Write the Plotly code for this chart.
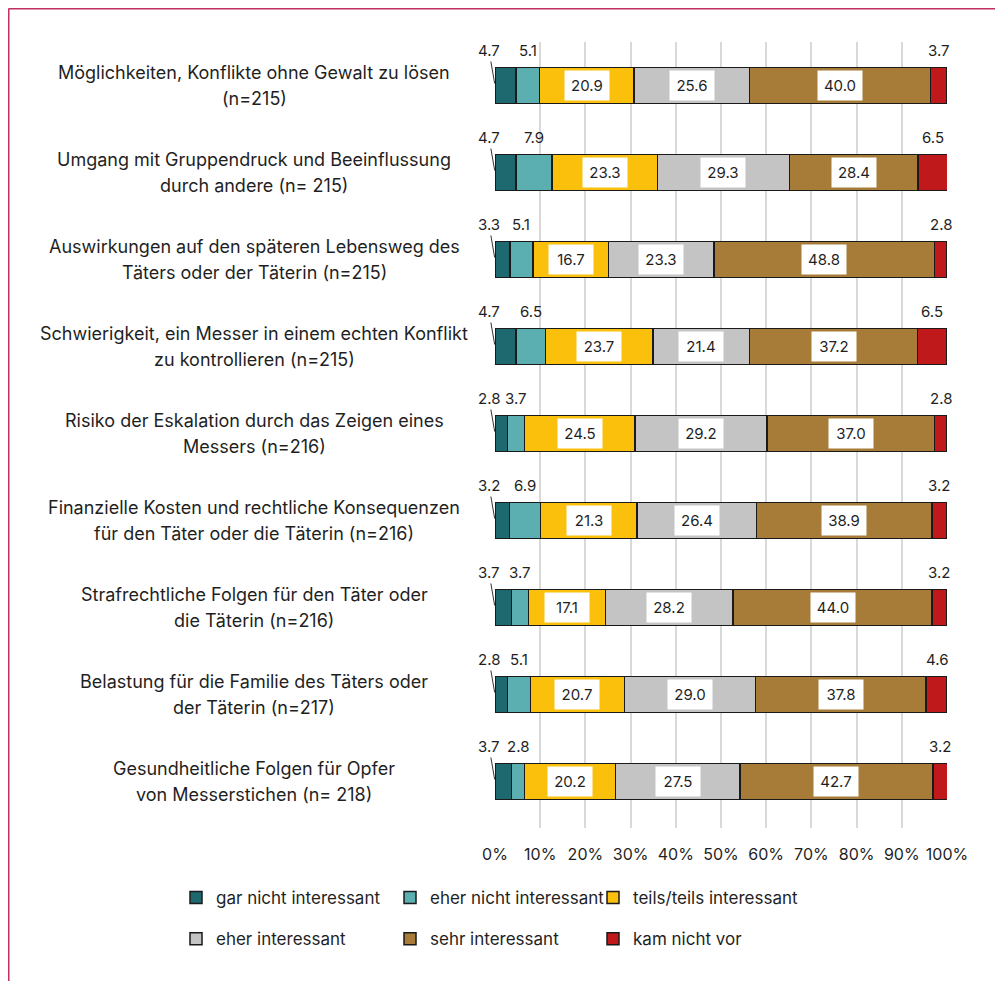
import plotly.graph_objects as go

categories = [
    "Möglichkeiten, Konflikte ohne Gewalt zu lösen<br>(n=215)",
    "Umgang mit Gruppendruck und Beeinflussung<br>durch andere (n= 215)",
    "Auswirkungen auf den späteren Lebensweg des<br>Täters oder der Täterin (n=215)",
    "Schwierigkeit, ein Messer in einem echten Konflikt<br>zu kontrollieren (n=215)",
    "Risiko der Eskalation durch das Zeigen eines<br>Messers (n=216)",
    "Finanzielle Kosten und rechtliche Konsequenzen<br>für den Täter oder die Täterin (n=216)",
    "Strafrechtliche Folgen für den Täter oder<br>die Täterin (n=216)",
    "Belastung für die Familie des Täters oder<br>der Täterin (n=217)",
    "Gesundheitliche Folgen für Opfer<br>von Messerstichen (n= 218)",
]

series_names = [
    "gar nicht interessant",
    "eher nicht interessant",
    "teils/teils interessant",
    "eher interessant",
    "sehr interessant",
    "kam nicht vor",
]

gar_nicht = [4.7, 4.7, 3.3, 4.7, 2.8, 3.2, 3.7, 2.8, 3.7]
eher_nicht = [5.1, 7.9, 5.1, 6.5, 3.7, 6.9, 3.7, 5.1, 2.8]
teils = [20.9, 23.3, 16.7, 23.7, 24.5, 21.3, 17.1, 20.7, 20.2]
eher = [25.6, 29.3, 23.3, 21.4, 29.2, 26.4, 28.2, 29.0, 27.5]
sehr = [40.0, 28.4, 48.8, 37.2, 37.0, 38.9, 44.0, 37.8, 42.7]
kam_nicht = [3.7, 6.5, 2.8, 6.5, 2.8, 3.2, 3.2, 4.6, 3.2]

tick_vals = [0, 10, 20, 30, 40, 50, 60, 70, 80, 90, 100]
tick_text = ["0%", "10%", "20%", "30%", "40%", "50%", "60%", "70%", "80%", "90%", "100%"]

series_values = [gar_nicht, eher_nicht, teils, eher, sehr, kam_nicht]
colors = ["#1E6870", "#5BAFB0", "#FBC00B", "#C4C4C4", "#A67C38", "#C0191C"]
legend_ids = ["legend", "legend2", "legend3", "legend", "legend2", "legend3"]

FONT = "Inter"
TXT = "#1f1f1f"

# the page body has an 8px margin: the figure starts at (8, 8) in the window
OFF = 8
W, H = 1003 - OFF, 981 - OFF
PLOT_L, PLOT_R, PLOT_T, PLOT_B = 495, 947, 42, 828  # window pixels
ML = PLOT_L - OFF
MT = PLOT_T - OFF
MR = W - (PLOT_R - OFF)
MB = H - (PLOT_B - OFF)
PW = PLOT_R - PLOT_L
PH = PLOT_B - PLOT_T


def px_x(px):
    return (px - PLOT_L) / PW


def px_y(py):
    return (PLOT_B - py) / PH


fig = go.Figure()
for i, (name, vals) in enumerate(zip(series_names, series_values)):
    fig.add_trace(go.Bar(
        y=categories, x=vals, name=name, orientation="h",
        marker=dict(color=colors[i], line=dict(color="#1a1a1a", width=1.5)),
        width=0.41, legend=legend_ids[i], legendgroup=name,
        hoverinfo="skip",
    ))

annotations = []
for r, cat in enumerate(categories):
    cum = 0.0
    for s, vals in enumerate(series_values):
        v = vals[r]
        center = cum + v / 2
        label = f"{v:.1f}"
        if s == 0:
            annotations.append(dict(
                x=cum, y=cat, xref="x", yref="y", text=label, showarrow=True,
                arrowhead=0, arrowwidth=1, arrowcolor="#333333", ax=-6, ay=-35,
                standoff=2, font=dict(family=FONT, size=15, color=TXT),
            ))
        elif s in (1, 5):
            annotations.append(dict(
                x=center, y=cat, xref="x", yref="y", text=label, showarrow=False,
                yshift=35, font=dict(family=FONT, size=15, color=TXT),
            ))
        else:
            annotations.append(dict(
                x=center, y=cat, xref="x", yref="y", text=label, showarrow=False,
                bgcolor="white", width=44, height=29, borderpad=0,
                font=dict(family=FONT, size=15, color=TXT),
            ))
        cum += v
    lines = cat.split("<br>")
    n = len(lines)
    for li, line in enumerate(lines):
        annotations.append(dict(
            x=px_x(254), y=cat, xref="paper", yref="y", text=line, showarrow=False,
            xanchor="center", yshift=((n - 1) / 2 - li) * 25.5,
            font=dict(family=FONT, size=18, color=TXT),
        ))

FRAME = "#C2305F"
shapes = [
    dict(type="line", xref="paper", yref="paper", x0=px_x(8.5), x1=px_x(8.5),
         y0=px_y(8.5), y1=px_y(1000), line=dict(color=FRAME, width=2)),
    dict(type="line", xref="paper", yref="paper", x0=px_x(8.5), x1=px_x(1020),
         y0=px_y(8.5), y1=px_y(8.5), line=dict(color=FRAME, width=2)),
]

legend_common = dict(
    orientation="v", font=dict(family=FONT, size=17, color=TXT),
    bgcolor="rgba(0,0,0,0)", tracegroupgap=16, itemwidth=30,
    xanchor="left", yanchor="top", y=px_y(880),
)

fig.update_layout(
    width=W, height=H,
    margin=dict(l=ML, r=MR, t=MT, b=MB),
    paper_bgcolor="white", plot_bgcolor="white",
    barmode="stack",
    font=dict(family=FONT, size=16, color=TXT),
    xaxis=dict(range=[0, 100], tickvals=tick_vals, ticktext=tick_text,
               showgrid=True, gridcolor="#D9D9D9", gridwidth=1.5,
               zeroline=False, showline=False, ticks="",
               ticklabelstandoff=15, tickfont=dict(family=FONT, size=16, color=TXT),
               fixedrange=True),
    yaxis=dict(autorange="reversed", showticklabels=False, showgrid=False,
               zeroline=False, showline=False, ticks="", fixedrange=True),
    legend=dict(**legend_common, x=px_x(176)),
    legend2=dict(**legend_common, x=px_x(390)),
    legend3=dict(**legend_common, x=px_x(593)),
    annotations=annotations,
    shapes=shapes,
    showlegend=True,
)

fig.write_html("out.html")
